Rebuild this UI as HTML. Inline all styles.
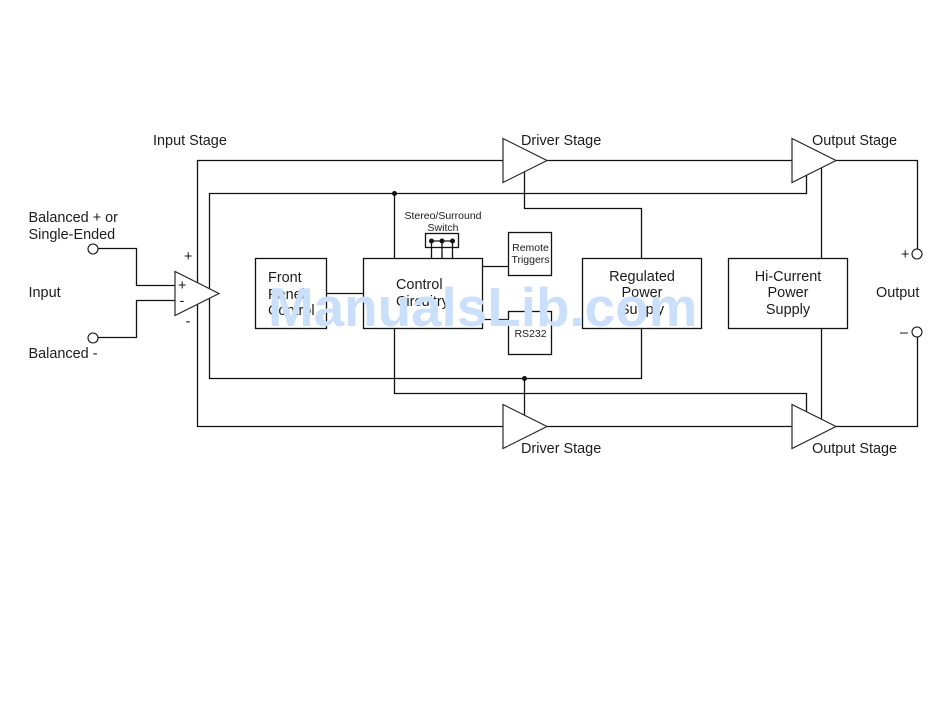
<!DOCTYPE html>
<html><head><meta charset="utf-8"><style>
html,body{margin:0;padding:0;background:#fff;width:950px;height:721px;overflow:hidden}
svg{display:block}
text{font-family:"Liberation Sans",sans-serif;fill:#1c1c1c}
.l{font-size:14.45px}.s{font-size:10.5px}
.m{text-anchor:middle}
</style></head><body>
<svg width="950" height="721" viewBox="0 0 950 721" xmlns="http://www.w3.org/2000/svg">
<rect width="950" height="721" fill="#fff"/>
<g fill="none" stroke="#111" stroke-width="1.3">
<path d="M197.5 293V160.5H503M197.5 293V426.5H503"/>
<path d="M209.5 293V193.5H806.5V170M209.5 293V378.5H641.5V328"/>
<path d="M547 160.5H836M547 426.500H792"/>
<path d="M836 160.500H917.500V249M917.500 337V426.500H836"/>
<path d="M524.500 170V208.500H641.500V258"/>
<path d="M524.500 378.500V416"/>
<path d="M821.500 165V258M821.500 328V420"/>
<path d="M394.500 193.500V258M394.500 328V393.500H806.500V414"/>
<path d="M326 293.500H363M482 266.500H508M482 319.500H508"/>
<path d="M431.500 241V258M442 241V258M452.500 241V258M431.500 241H452"/>
<path d="M98 248.500H136.500V285.500H175M98 337.500H136.500V300.500H175"/>
<rect x="255.500" y="258.500" width="71" height="70"/>
<rect x="363.500" y="258.500" width="119" height="70"/>
<rect x="582.500" y="258.500" width="119" height="70"/>
<rect x="728.500" y="258.500" width="119" height="70"/>
<rect x="508.500" y="232.500" width="43" height="43"/>
<rect x="508.500" y="311.500" width="43" height="43"/>
<rect x="425.500" y="233.500" width="33" height="14"/>
<circle cx="93" cy="249" r="5" fill="#fff" stroke-width="1.100"/>
<circle cx="93" cy="338" r="5" fill="#fff" stroke-width="1.100"/>
<circle cx="917" cy="254" r="5" fill="#fff" stroke-width="1.100"/>
<circle cx="917" cy="332" r="5" fill="#fff" stroke-width="1.100"/>
</g>
<g fill="#fff" stroke="#2a2a2a" stroke-width="1.200">
<path d="M175 271.500V315.500L219 293.500Z"/>
<path d="M503 138.500V182.500L547 160.500Z"/>
<path d="M792 138.500V182.500L836 160.500Z"/>
<path d="M503 404.500V448.500L547 426.500Z"/>
<path d="M792 404.500V448.500L836 426.500Z"/>
</g>
<g fill="#111">
<circle cx="394.500" cy="193.500" r="2.500"/>
<circle cx="524.500" cy="378.500" r="2.500"/>
<circle cx="431.500" cy="241" r="2.500"/>
<circle cx="442" cy="241" r="2.500"/>
<circle cx="452.500" cy="241" r="2.500"/>
</g>
<text class="l" x="153" y="145">Input Stage</text>
<text class="l" x="521" y="145">Driver Stage</text>
<text class="l" x="812" y="145">Output Stage</text>
<text class="l" x="521" y="453">Driver Stage</text>
<text class="l" x="812" y="453">Output Stage</text>
<text class="l" x="28.500" y="222">Balanced + or</text>
<text class="l" x="28.500" y="239">Single-Ended</text>
<text class="l" x="28.500" y="297">Input</text>
<text class="l" x="28.500" y="358">Balanced -</text>
<text class="l" x="876" y="297">Output</text>
<text class="l" x="184" y="261">+</text>
<text class="l" x="185.500" y="326">-</text>
<text class="l" x="178" y="290">+</text>
<text class="l" x="179.500" y="305.500">-</text>
<text class="l" x="901" y="259">+</text>
<text class="l" x="900" y="337">–</text>
<text class="l" x="268" y="282">Front</text>
<text class="l" x="268" y="299">Panel</text>
<text class="l" x="268" y="315">Control</text>
<text class="l" x="396" y="289">Control</text>
<text class="l" x="396" y="306">Circuitry</text>
<text class="l m" x="642" y="281">Regulated</text>
<text class="l m" x="642" y="297">Power</text>
<text class="l m" x="642" y="314">Supply</text>
<text class="l m" x="788" y="281">Hi-Current</text>
<text class="l m" x="788" y="297">Power</text>
<text class="l m" x="788" y="314">Supply</text>
<text class="s m" x="443" y="219">Stereo/Surround</text>
<text class="s m" x="443" y="231">Switch</text>
<text class="s m" x="530.500" y="251">Remote</text>
<text class="s m" x="530.500" y="263">Triggers</text>
<text class="s m" x="530.500" y="337">RS232</text>
<text x="268" y="326" style="font-size:54.8px;font-weight:bold;fill:#c9dffa">ManualsLib.com</text>
</svg>
</body></html>
